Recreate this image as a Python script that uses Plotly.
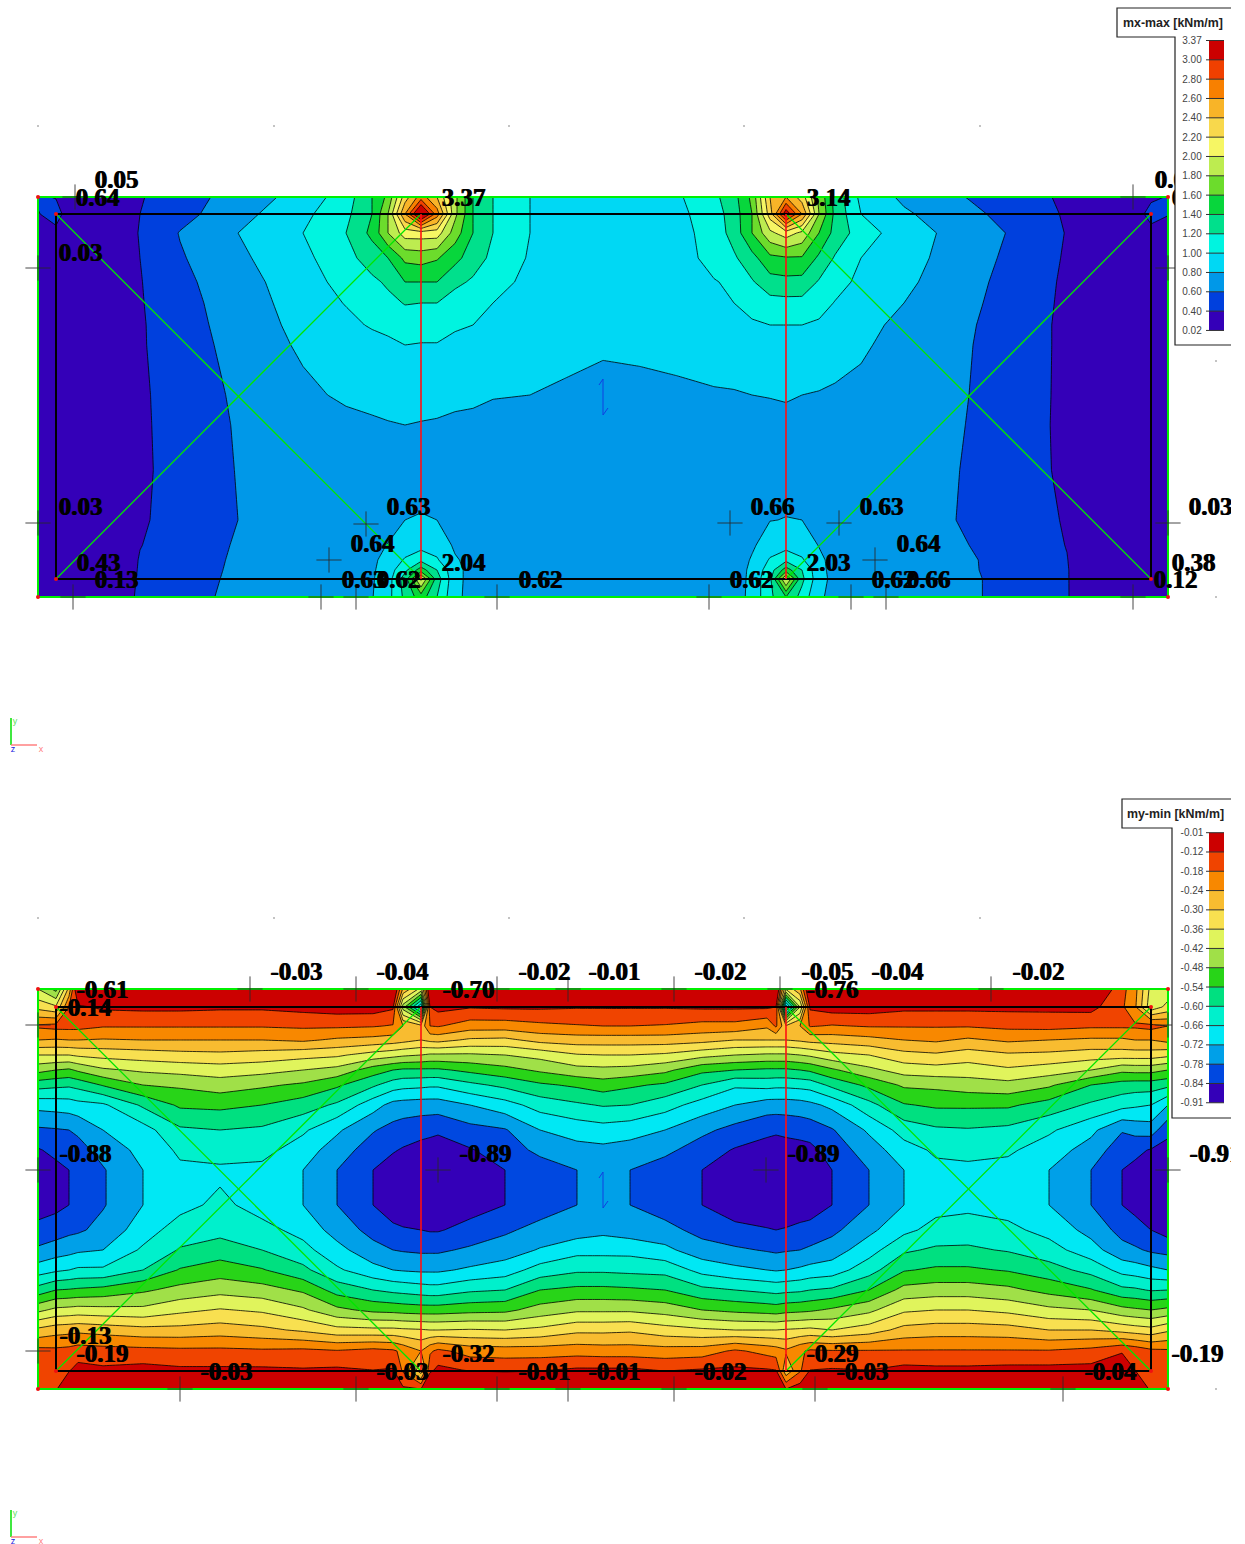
import plotly.graph_objects as go

# ---------- top plate: mx-max ----------
top_y = [197,214,233,258,282,303,325,345,395,425,470,520,545,560,570,579,597]
top_x = [38,56,68,100,140,180,238,303,346,372,388,405,421,437,455,473,493,530,565,603,640,677,714,734,752,770,786,802,819,835,861,904,969,1027,1067,1107,1138,1151,1168]
top_cols = [
[.45,.38,.2,.12,.1,.08,.07,.05,.04,.04,.05,.06,.07,.07,.07,.08,.1],
[.38,.55,.3,.15,.12,.1,.08,.06,.05,.05,.05,.06,.07,.08,.08,.12,.12],
[.2,.25,.2,.16,.14,.12,.1,.08,.07,.07,.07,.08,.09,.09,.09,.1,.13],
[.26,.24,.22,.22,.2,.2,.19,.18,.18,.18,.18,.18,.18,.2,.2,.21,.22],
[.385,.40,.41,.40,.39,.385,.38,.38,.375,.375,.375,.38,.395,.41,.415,.42,.43],
[.51,.53,.61,.58,.55,.53,.51,.50,.47,.46,.45,.46,.475,.49,.50,.51,.54],
[.68,.73,.80,.76,.72,.70,.69,.67,.635,.62,.61,.60,.62,.63,.635,.64,.64],
[.88,.95,1.0,.95,.91,.885,.855,.83,.76,.72,.66,.65,.65,.65,.65,.65,.65],
[1.1,1.15,1.2,1.135,1.07,1.01,.95,.9,.83,.75,.68,.66,.66,.68,.69,.70,.71],
[1.4,1.4,1.45,1.29,1.16,1.09,1.02,.93,.84,.78,.70,.68,.72,.76,.77,.78,.79],
[1.65,1.8,1.8,1.4,1.23,1.15,1.05,.96,.86,.79,.71,.70,.81,.87,.90,.91,.93],
[2.3,2.6,2.1,1.65,1.4,1.21,1.1,1.0,.87,.80,.72,.80,.90,1.02,1.15,1.3,1.25],
[2.7,3.37,2.1,1.68,1.40,1.2,1.08,.99,.87,.79,.74,.81,.92,1.15,1.5,2.04,1.5],
[2.4,2.7,2.1,1.62,1.40,1.2,1.08,.99,.87,.78,.73,.80,.92,1.02,1.2,1.3,1.2],
[1.85,1.85,1.7,1.46,1.25,1.1,1.02,.96,.85,.76,.72,.74,.77,.82,.85,.85,.84],
[1.4,1.4,1.4,1.3,1.17,1.08,1.0,.94,.84,.75,.70,.70,.72,.74,.74,.74,.74],
[1.2,1.2,1.2,1.15,1.07,1.0,.95,.90,.81,.74,.69,.68,.68,.68,.68,.68,.68],
[1.0,1.0,1.0,.98,.95,.93,.91,.88,.80,.73,.68,.66,.66,.66,.66,.66,.66],
[.95,.93,.92,.91,.90,.89,.87,.84,.78,.72,.67,.65,.65,.65,.65,.65,.65],
[.92,.90,.90,.89,.88,.87,.86,.82,.755,.73,.68,.65,.65,.65,.65,.65,.65],
[.93,.91,.90,.90,.89,.88,.87,.83,.76,.72,.67,.65,.65,.65,.65,.65,.65],
[.97,.95,.93,.92,.91,.89,.87,.84,.775,.73,.68,.66,.66,.66,.66,.66,.66],
[1.15,1.1,1.08,1.06,.99,.93,.88,.85,.79,.73,.68,.66,.66,.66,.66,.66,.66],
[1.33,1.30,1.28,1.17,1.03,1.0,.92,.88,.79,.74,.69,.67,.67,.68,.68,.68,.70],
[1.65,1.6,1.6,1.33,1.18,1.08,.97,.91,.80,.75,.71,.72,.77,.82,.85,.86,.86],
[2.4,2.3,1.95,1.55,1.32,1.13,1.0,.93,.805,.76,.72,.795,.90,1.02,1.1,1.15,1.15],
[2.6,3.14,2.1,1.58,1.34,1.14,1.0,.94,.81,.77,.73,.805,.92,1.15,1.5,2.03,1.4],
[2.3,2.6,1.95,1.58,1.33,1.14,1.0,.94,.80,.76,.72,.80,.92,1.02,1.2,1.25,1.12],
[1.75,1.8,1.6,1.36,1.18,1.08,.97,.91,.79,.745,.71,.73,.79,.85,.86,.87,.82],
[1.33,1.35,1.33,1.18,1.08,.99,.93,.88,.775,.73,.69,.67,.70,.72,.73,.74,.76],
[.95,1.0,1.1,1.0,.95,.90,.86,.83,.75,.71,.67,.65,.65,.65,.65,.65,.65],
[.76,.83,.89,.87,.84,.80,.75,.72,.68,.65,.63,.62,.63,.64,.64,.64,.64],
[.59,.65,.71,.69,.66,.64,.62,.61,.60,.597,.595,.595,.60,.62,.62,.63,.63],
[.45,.485,.535,.505,.485,.475,.465,.465,.46,.455,.455,.465,.48,.495,.505,.50,.50],
[.37,.38,.39,.38,.37,.365,.36,.36,.36,.36,.365,.385,.395,.405,.41,.41,.41],
[.2,.2,.2,.18,.17,.16,.15,.15,.14,.14,.14,.15,.16,.18,.19,.2,.21],
[.1,.22,.13,.11,.1,.09,.08,.07,.06,.06,.06,.07,.08,.09,.1,.12,.13],
[.3,.6,.22,.08,.07,.06,.06,.05,.05,.05,.05,.05,.06,.07,.08,.12,.14],
[.43,.42,.2,.1,.08,.07,.06,.05,.04,.04,.04,.04,.05,.06,.07,.08,.1],
]

# ---------- bottom plate: my-min ----------
bot_y = [989,1007,1026,1040,1055,1070,1085,1105,1130,1150,1170,1187,1205,1230,1250,1270,1290,1310,1330,1351,1370,1389]
bot_x = [38,56,69,78,103,143,180,220,262,303,337,373,393,403,421,430,438,470,505,540,577,603,630,665,702,735,767,776,786,800,810,832,869,904,936,968,1008,1049,1091,1122,1135,1151,1168]
bot_cols = [
[-.42,-.32,-.17,-.24,-.36,-.46,-.575,-.70,-.79,-.845,-.87,-.88,-.87,-.82,-.77,-.69,-.575,-.435,-.285,-.16,-.16,-.14],
[-.50,-.35,-.16,-.245,-.36,-.48,-.585,-.695,-.785,-.825,-.855,-.87,-.855,-.81,-.75,-.67,-.54,-.405,-.265,-.165,-.155,-.125],
[-.28,-.18,-.16,-.24,-.36,-.49,-.59,-.69,-.78,-.81,-.84,-.84,-.84,-.795,-.74,-.66,-.535,-.40,-.26,-.16,-.125,-.07],
[-.03,-.13,-.16,-.24,-.35,-.47,-.58,-.68,-.77,-.80,-.83,-.835,-.83,-.79,-.73,-.65,-.53,-.395,-.255,-.15,-.10,-.03],
[-.03,-.11,-.175,-.245,-.34,-.43,-.535,-.67,-.72,-.76,-.785,-.785,-.785,-.76,-.72,-.65,-.52,-.40,-.265,-.155,-.11,-.03],
[-.03,-.105,-.175,-.24,-.33,-.41,-.48,-.59,-.685,-.70,-.72,-.72,-.72,-.69,-.65,-.60,-.49,-.405,-.28,-.16,-.10,-.03],
[-.03,-.105,-.175,-.24,-.32,-.40,-.47,-.53,-.61,-.65,-.67,-.70,-.68,-.63,-.595,-.535,-.46,-.375,-.28,-.165,-.11,-.03],
[-.03,-.11,-.175,-.24,-.315,-.39,-.45,-.525,-.60,-.635,-.67,-.66,-.645,-.62,-.57,-.51,-.44,-.355,-.27,-.165,-.11,-.03],
[-.03,-.11,-.175,-.24,-.325,-.40,-.47,-.54,-.61,-.64,-.675,-.70,-.685,-.64,-.60,-.535,-.455,-.37,-.285,-.17,-.11,-.03],
[-.03,-.10,-.17,-.23,-.34,-.42,-.49,-.57,-.65,-.69,-.72,-.72,-.72,-.68,-.64,-.585,-.49,-.41,-.31,-.165,-.115,-.03],
[-.03,-.09,-.17,-.25,-.35,-.44,-.53,-.61,-.71,-.75,-.78,-.78,-.78,-.745,-.70,-.65,-.565,-.465,-.34,-.175,-.11,-.03],
[-.03,-.09,-.175,-.26,-.385,-.51,-.59,-.695,-.775,-.81,-.84,-.84,-.84,-.80,-.76,-.70,-.60,-.495,-.345,-.16,-.12,-.03],
[-.03,-.11,-.185,-.27,-.40,-.54,-.63,-.74,-.80,-.835,-.865,-.875,-.865,-.83,-.78,-.72,-.615,-.50,-.345,-.17,-.115,-.03],
[-.25,-.45,-.24,-.28,-.41,-.55,-.64,-.745,-.81,-.845,-.875,-.885,-.875,-.835,-.785,-.725,-.62,-.505,-.35,-.195,-.19,-.11],
[-.38,-.72,-.28,-.30,-.42,-.55,-.645,-.75,-.82,-.86,-.885,-.89,-.885,-.84,-.79,-.73,-.63,-.51,-.355,-.24,-.34,-.12],
[-.03,-.12,-.18,-.285,-.43,-.55,-.65,-.75,-.825,-.865,-.89,-.895,-.89,-.845,-.79,-.73,-.635,-.51,-.36,-.19,-.135,-.03],
[-.03,-.10,-.175,-.28,-.43,-.55,-.65,-.75,-.83,-.87,-.89,-.895,-.89,-.845,-.79,-.73,-.635,-.51,-.36,-.165,-.105,-.03],
[-.03,-.115,-.21,-.31,-.43,-.525,-.615,-.72,-.80,-.845,-.87,-.875,-.865,-.82,-.77,-.71,-.61,-.50,-.355,-.205,-.125,-.03],
[-.03,-.11,-.21,-.315,-.42,-.50,-.585,-.685,-.785,-.81,-.84,-.84,-.84,-.79,-.75,-.69,-.60,-.495,-.36,-.21,-.13,-.03],
[-.03,-.11,-.195,-.28,-.40,-.47,-.55,-.635,-.72,-.765,-.81,-.81,-.81,-.76,-.715,-.635,-.54,-.455,-.345,-.21,-.125,-.03],
[-.02,-.115,-.185,-.27,-.365,-.44,-.53,-.61,-.695,-.74,-.78,-.78,-.78,-.75,-.68,-.61,-.525,-.43,-.315,-.205,-.11,-.01],
[-.02,-.115,-.18,-.27,-.36,-.435,-.51,-.595,-.685,-.735,-.76,-.77,-.76,-.735,-.68,-.61,-.525,-.43,-.315,-.21,-.11,-.01],
[-.02,-.115,-.18,-.27,-.36,-.44,-.53,-.60,-.695,-.745,-.78,-.78,-.78,-.75,-.68,-.615,-.53,-.43,-.31,-.21,-.11,-.01],
[-.03,-.115,-.185,-.27,-.37,-.465,-.55,-.635,-.72,-.765,-.81,-.81,-.81,-.76,-.705,-.62,-.54,-.445,-.335,-.215,-.125,-.03],
[-.03,-.11,-.20,-.28,-.40,-.525,-.60,-.685,-.765,-.81,-.84,-.84,-.84,-.80,-.755,-.68,-.585,-.48,-.35,-.21,-.115,-.03],
[-.03,-.11,-.20,-.30,-.42,-.54,-.65,-.72,-.80,-.845,-.87,-.88,-.87,-.825,-.77,-.705,-.60,-.495,-.36,-.17,-.11,-.03],
[-.03,-.11,-.23,-.30,-.43,-.55,-.64,-.75,-.825,-.865,-.89,-.895,-.89,-.835,-.785,-.72,-.615,-.505,-.36,-.20,-.115,-.03],
[-.03,-.12,-.17,-.30,-.43,-.55,-.645,-.75,-.83,-.87,-.89,-.895,-.89,-.84,-.79,-.725,-.62,-.51,-.36,-.21,-.12,-.03],
[-.35,-.76,-.29,-.30,-.43,-.55,-.645,-.75,-.825,-.865,-.885,-.89,-.885,-.835,-.785,-.72,-.615,-.50,-.355,-.23,-.29,-.12],
[-.25,-.42,-.24,-.29,-.42,-.54,-.64,-.745,-.82,-.86,-.88,-.885,-.875,-.825,-.78,-.71,-.61,-.495,-.35,-.19,-.19,-.09],
[-.03,-.11,-.175,-.28,-.41,-.53,-.635,-.735,-.815,-.855,-.875,-.88,-.87,-.82,-.77,-.70,-.60,-.49,-.345,-.17,-.12,-.03],
[-.03,-.09,-.185,-.275,-.38,-.49,-.585,-.705,-.785,-.815,-.84,-.84,-.84,-.795,-.75,-.69,-.59,-.47,-.36,-.175,-.115,-.03],
[-.03,-.09,-.175,-.26,-.36,-.435,-.525,-.62,-.71,-.75,-.78,-.78,-.78,-.735,-.685,-.625,-.54,-.435,-.33,-.175,-.12,-.03],
[-.03,-.105,-.175,-.24,-.32,-.395,-.47,-.545,-.635,-.685,-.72,-.72,-.72,-.675,-.61,-.545,-.46,-.37,-.28,-.175,-.10,-.03],
[-.03,-.105,-.175,-.23,-.31,-.385,-.465,-.53,-.61,-.65,-.675,-.71,-.68,-.64,-.59,-.53,-.45,-.36,-.27,-.175,-.105,-.03],
[-.03,-.105,-.175,-.25,-.33,-.39,-.45,-.53,-.605,-.64,-.675,-.70,-.675,-.63,-.59,-.53,-.45,-.36,-.27,-.175,-.105,-.03],
[-.03,-.105,-.165,-.23,-.31,-.37,-.44,-.53,-.615,-.65,-.68,-.71,-.685,-.645,-.605,-.545,-.465,-.375,-.275,-.175,-.10,-.03],
[-.03,-.105,-.16,-.24,-.315,-.39,-.47,-.565,-.65,-.69,-.72,-.72,-.72,-.68,-.635,-.575,-.50,-.405,-.30,-.175,-.10,-.03],
[-.03,-.10,-.17,-.25,-.33,-.42,-.54,-.61,-.705,-.745,-.78,-.78,-.78,-.74,-.695,-.62,-.535,-.42,-.30,-.16,-.10,-.03],
[-.16,-.17,-.17,-.25,-.33,-.465,-.565,-.64,-.775,-.815,-.84,-.84,-.84,-.80,-.76,-.68,-.585,-.46,-.32,-.125,-.08,-.03],
[-.22,-.23,-.17,-.24,-.33,-.46,-.57,-.65,-.76,-.825,-.855,-.87,-.855,-.82,-.77,-.69,-.59,-.47,-.33,-.14,-.12,-.09],
[-.38,-.40,-.16,-.24,-.33,-.46,-.57,-.66,-.75,-.845,-.865,-.88,-.875,-.84,-.79,-.705,-.605,-.48,-.34,-.165,-.14,-.125],
[-.40,-.34,-.18,-.22,-.345,-.48,-.585,-.72,-.825,-.86,-.885,-.905,-.90,-.865,-.80,-.72,-.60,-.465,-.31,-.17,-.17,-.14],
]

top_colors = ["#3400b8","#0040dd","#0098e8","#00d8f4","#00f4e0","#00e08c","#08d63c","#6cdc2c","#bdec50","#f6f664","#f8d84c","#f8b428","#f88000","#f04000","#cc0000"]
bot_colors = ["#3400b8","#0048e0","#00a0e8","#00e8f4","#00f0cc","#00e080","#28d418","#a0e048","#e0f45c","#f8e050","#f8bc30","#f88800","#f04400","#cc0000"]
top_ticks = ["3.37","3.00","2.80","2.60","2.40","2.20","2.00","1.80","1.60","1.40","1.20","1.00","0.80","0.60","0.40","0.02"]
bot_ticks = ["-0.01","-0.12","-0.18","-0.24","-0.30","-0.36","-0.42","-0.48","-0.54","-0.60","-0.66","-0.72","-0.78","-0.84","-0.91"]

top_labels = [("0.05",116,182),("0.64",97,200),("3.37",463,200),("3.14",828,200),("0.03",80,255),("0.03",1252,255),
 ("0.05",1176,182),("0.64",1193,200),
 ("0.63",408,509),("0.66",772,509),("0.63",881,509),("0.03",80,509),("0.03",1210,509),
 ("0.64",372,546),("0.64",918,546),("0.43",98,565),("2.04",463,565),("2.03",828,565),("0.38",1193,565),
 ("0.13",116,582),("0.63",363,582),("0.62",398,582),("0.62",540,582),("0.62",751,582),("0.62",893,582),("0.66",928,582),("0.12",1175,582)]
bot_labels = [("-0.03",296,974),("-0.04",402,974),("-0.02",544,974),("-0.01",614,974),("-0.02",720,974),("-0.05",827,974),("-0.04",897,974),("-0.02",1038,974),
 ("-0.61",102,992),("-0.70",468,992),("-0.76",832,992),("-0.14",85,1010),("-0.61",1252,1014),
 ("-0.88",85,1156),("-0.89",485,1156),("-0.89",813,1156),("-0.91",1215,1156),
 ("-0.13",85,1338),("-0.19",102,1356),("-0.32",468,1356),("-0.29",832,1356),("-0.19",1197,1356),
 ("-0.03",226,1374),("-0.03",402,1374),("-0.01",544,1374),("-0.01",614,1374),("-0.02",720,1374),("-0.03",862,1374),("-0.04",1110,1374)]

top_cross = [(75,197),(38,268),(38,523),(366,524),(329,560),(730,523),(839,523),(875,560),(1133,197),(1168,268),(1168,523),(73,597),(321,597),(356,597),(497,597),(709,597),(851,597),(886,597),(1133,597)]
bot_cross = [(250,989),(356,989),(497,989),(568,989),(674,989),(780,989),(991,989),(38,1025),(38,1170),(438,1170),(766,1170),(1168,1025),(1168,1170),(38,1351),(180,1389),(356,1389),(497,1389),(568,1389),(674,1389),(815,1389),(1063,1389)]
dots = [(38,126),(274,126),(509,126),(744,126),(980,126),(1216,361),(1216,597),(38,918),(274,918),(509,918),(744,918),(980,918),(1216,1153),(1216,1389)]


def flip(cols):
    return [list(r) for r in zip(*cols)]


def seg(*pts):
    xs, ys = [], []
    for a, b in pts:
        xs += [a[0], b[0], None]
        ys += [a[1], b[1], None]
    return xs, ys


fig = go.Figure()
for xs, ys, cols, cs, st, en, sz in [
    (top_x, top_y, top_cols, top_colors, .4, 3.0, .2),
    (bot_x, bot_y, bot_cols, bot_colors, -.84, -.12, .06)]:
    fig.add_trace(go.Contour(
        x=xs, y=ys, z=flip(cols), showscale=False, hoverinfo="skip",
        colorscale=[[k/(len(cs)-1), c] for k, c in enumerate(cs)],
        autocontour=False,
        contours=dict(start=st, end=en, size=sz, coloring="fill", showlines=True),
        line=dict(color="rgba(0,0,0,.78)", width=1, smoothing=0)))

L, R, CL, CR = 56, 1151, 421, 786
for y0, y1, t, b in [(197, 597, 214, 579), (989, 1389, 1007, 1371)]:
    # diagonals, then member axes
    xs, ys = seg(((L, t), (CL, b)), ((L, b), (CL, t)), ((CR, t), (R, b)), ((CR, b), (R, t)))
    fig.add_trace(go.Scatter(x=xs, y=ys, mode="lines", line=dict(color="#00e600", width=1.3), hoverinfo="skip"))
    xs, ys = seg(((L, t), (R, t)), ((R, t), (R, b)), ((R, b), (L, b)), ((L, b), (L, t)))
    fig.add_trace(go.Scatter(x=xs, y=ys, mode="lines", line=dict(color="#000", width=2), hoverinfo="skip"))
    xs, ys = seg(((CL, t), (CL, b)), ((CR, t), (CR, b)))
    fig.add_trace(go.Scatter(x=xs, y=ys, mode="lines", line=dict(color="#ff1010", width=1.6), hoverinfo="skip"))
    xs, ys = seg(((38, y0), (1168, y0)), ((1168, y0), (1168, y1)), ((1168, y1), (38, y1)), ((38, y1), (38, y0)))
    fig.add_trace(go.Scatter(x=xs, y=ys, mode="lines", line=dict(color="#00f000", width=2), hoverinfo="skip"))
    fig.add_trace(go.Scatter(x=[38, 1168, 38, 1168, L, R, L, R], y=[y0, y0, y1, y1, t, t, b, b], mode="markers",
                             marker=dict(color="#f01010", size=4), hoverinfo="skip"))
    # reinforcement-direction mark
    fig.add_trace(go.Scatter(x=[599, 603, 603, 608], y=[t+171, t+165, t+201, t+194], mode="lines",
                             line=dict(color="#1040e0", width=1), hoverinfo="skip"))
    # axis triad
    o = y1 + 148
    fig.add_trace(go.Scatter(x=[11, 11], y=[o-27, o], mode="lines", line=dict(color="#00e000", width=1.5), hoverinfo="skip"))
    fig.add_trace(go.Scatter(x=[11, 37], y=[o, o], mode="lines", line=dict(color="#ff8080", width=1.5), hoverinfo="skip"))
    fig.add_trace(go.Scatter(x=[15, 41, 13], y=[o-23, o+5, o+5], text=["y", "x", "z"], mode="text",
                             textfont=dict(family="Arial, Liberation Sans", size=9,
                                           color=["#60e060", "#ff8080", "#2020e0"]), hoverinfo="skip"))

allc = top_cross + bot_cross
fig.add_trace(go.Scatter(x=[p[0] for p in allc], y=[p[1] for p in allc], mode="markers",
                         marker=dict(symbol="cross-thin", size=18, line=dict(color="rgba(40,40,40,.85)", width=1)), hoverinfo="skip"))
fig.add_trace(go.Scatter(x=[p[0] for p in dots], y=[p[1] for p in dots], mode="markers",
                         marker=dict(color="#777", size=1.6), hoverinfo="skip"))
alll = top_labels + bot_labels
fig.add_trace(go.Scatter(x=[p[1] for p in alll], y=[p[2] for p in alll], text=[p[0] for p in alll], mode="text",
                         textfont=dict(family="Liberation Serif", size=25, color="#000", weight="bold", shadow="1px 0 0 #000"),
                         hoverinfo="skip"))

# legend panels: white frame on x2/y2, colour bar and text on x3/y3 above it
for title, colors, ticks, box, panel_left, panel_bottom, first, step in [
    ("mx-max [kNm/m]", top_colors, top_ticks, (1117, 8, 37), 1175, 345, 40.5, 19.33),
    ("my-min [kNm/m]", bot_colors, bot_ticks, (1122, 799, 828), 1172, 1118, 832.7, 19.29)]:
    bl, bt, bb = box
    fig.add_trace(go.Scatter(x=[1231, bl, bl, panel_left, panel_left, 1231], y=[bt, bt, bb, bb, panel_bottom, panel_bottom],
                             mode="lines", fill="toself", fillcolor="#fff", line=dict(color="#222", width=1.2),
                             xaxis="x2", yaxis="y2", hoverinfo="skip"))
    edges = [first + i*step for i in range(len(ticks))]
    n = len(colors)
    fig.add_trace(go.Heatmap(x=[1209, 1224], y=edges, z=[[n-1-i] for i in range(n)], showscale=False, zmin=-.5, zmax=n-.5,
                             colorscale=[s for k, c in enumerate(colors) for s in ((k/n, c), ((k+1)/n, c))],
                             xaxis="x3", yaxis="y3", hoverinfo="skip"))
    xs, ys = seg(*[((1206, e), (1224, e)) for e in edges])
    fig.add_trace(go.Scatter(x=xs, y=ys, mode="lines", line=dict(color="#333", width=1), xaxis="x3", yaxis="y3", hoverinfo="skip"))
    fig.add_trace(go.Scatter(x=[1192]*len(ticks), y=[e+1 for e in edges], text=ticks, mode="text",
                             textfont=dict(family="Liberation Sans", size=10, color="#444"),
                             xaxis="x3", yaxis="y3", hoverinfo="skip"))
    fig.add_trace(go.Scatter(x=[(bl+1231)/2 - 1], y=[(bt+bb)/2 + 1], text=[title], mode="text",
                             textfont=dict(family="Liberation Sans", size=12.4, color="#222", weight="bold"),
                             xaxis="x3", yaxis="y3", hoverinfo="skip"))

ax = dict(visible=False, range=[0, 1231], domain=[0, 1231/1245], fixedrange=True)
ay = dict(visible=False, range=[1544, 0], domain=[0, 1], fixedrange=True)
fig.update_layout(width=1245, height=1544, autosize=False, margin=dict(l=0, r=0, t=0, b=0), showlegend=False,
                  paper_bgcolor="#fff", plot_bgcolor="#fff",
                  xaxis=ax, yaxis=ay,
                  xaxis2=dict(ax, overlaying="x"), yaxis2=dict(ay, overlaying="y"),
                  xaxis3=dict(ax, overlaying="x"), yaxis3=dict(ay, overlaying="y"))
fig.write_html("out.html", config=dict(displayModeBar=False),
               post_script="document.body.style.margin='0';document.body.style.overflow='hidden';")
